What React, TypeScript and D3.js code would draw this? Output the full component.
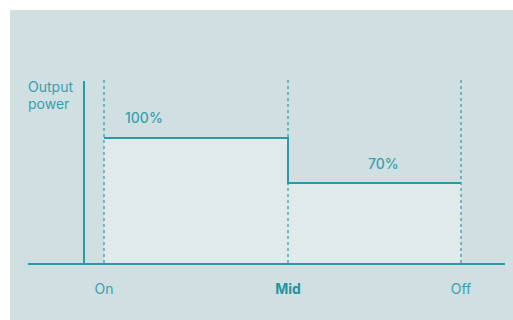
import React from "react";
import * as d3 from "d3";

const phases = ["On", "Mid", "Off"];
const levels = [100, 70];
const levelLabels = ["100%", "70%"];

export default function App() {
  const W = 513, H = 320;
  const x = d3.scalePoint<string>().domain(phases).range([104, 461]);
  x.padding(0);
  const xs = phases.map((p) => x(p) as number);
  // positions: On 104, Mid ~288, Off 461
  const xPos = d3.scaleLinear().domain([0, 2]).range([104, 461]);
  const y = d3.scaleLinear().domain([16, 100]).range([264, 138]);
  const stroke = "#2b9aa7";
  const text = "#3a9fad";
  const midX = 288;
  const segX = [xPos(0), midX, xPos(2)];
  const area = d3
    .area<number>()
    .x((_, i) => segX[i])
    .y0(y(16))
    .y1((d) => y(d))
    .curve(d3.curveStepAfter);
  const data = [levels[0], levels[1], levels[1]];
  const line = d3
    .line<number>()
    .x((_, i) => segX[i])
    .y((d) => y(d))
    .curve(d3.curveStepAfter);
  return (
    <svg width={W} height={H} style={{ position: "absolute", left: 0, top: 0, fontFamily: "Inter, 'Noto Sans', sans-serif" }}>
      <rect x={10} y={10} width={W - 10} height={H - 10} fill="#cfdfe2" />
      <path d={area(data) || ""} fill="#e1eaeb" />
      {segX.map((sx, i) => (
        <line key={i} x1={sx} x2={sx} y1={80} y2={264} stroke="#4aa9b6" strokeWidth={1.5} strokeDasharray="3,3" />
      ))}
      <path d={line(data) || ""} fill="none" stroke={stroke} strokeWidth={2} />
      <line x1={84} x2={84} y1={81} y2={265} stroke={stroke} strokeWidth={2} />
      <line x1={28} x2={505} y1={264} y2={264} stroke={stroke} strokeWidth={2} />
      <text x={28} y={92} fill={text} fontSize={14}>Output</text>
      <text x={28} y={109} fill={text} fontSize={14}>power</text>
      <text x={125} y={123} fill={text} fontSize={14} fontWeight={500}>{levelLabels[0]}</text>
      <text x={368} y={169} fill={text} fontSize={14} fontWeight={500}>{levelLabels[1]}</text>
      {phases.map((p, i) => (
        <text
          key={p}
          x={segX[i]}
          y={294}
          textAnchor="middle"
          fill={i === 1 ? "#2593a1" : text}
          fontSize={14}
          fontWeight={i === 1 ? 700 : 400}
        >
          {p}
        </text>
      ))}
    </svg>
  );
}
